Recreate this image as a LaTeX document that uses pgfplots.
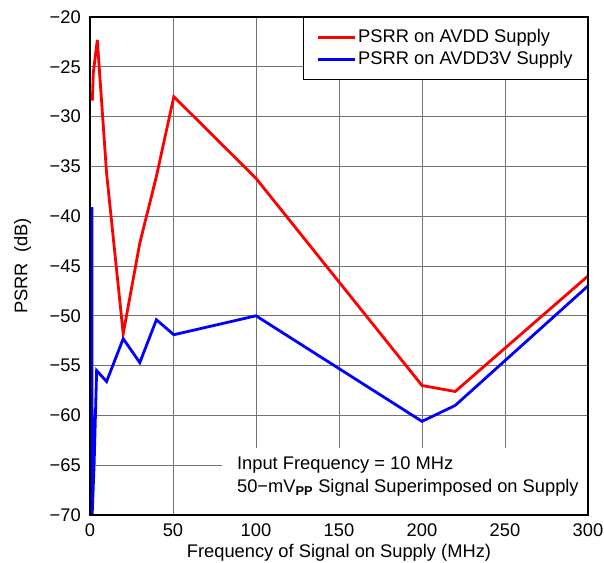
\documentclass[border=0pt]{standalone}
\usepackage{pgfplots}
\pgfplotsset{compat=1.18}
\usepackage{fontspec}
\setmainfont{Liberation Sans}
\begin{document}
\fontsize{18.3}{21}\selectfont
\begin{tikzpicture}
\begin{axis}[
  scale only axis,
  width=498pt, height=498pt,
  xmin=0, xmax=300, ymin=-70, ymax=-20,
  xtick={0,50,100,150,200,250,300},
  ytick={-70,-65,-60,-55,-50,-45,-40,-35,-30,-25,-20},
  yticklabels={−70,−65,−60,−55,−50,−45,−40,−35,−30,−25,−20},
  /pgf/number format/assume math mode=true,
  tick style={draw=none},
  grid=major,
  major grid style={draw=black!55, line width=0.8pt},
  axis line style={line width=1.6pt},
  ticklabel style={font=\fontsize{18.3}{21}\selectfont},
  yticklabel style={xshift=-3pt},
  xticklabel style={yshift=-2pt},
  xlabel={Frequency of Signal on Supply (MHz)},
  ylabel={PSRR\ \ (dB)},
  label style={font=\fontsize{18.3}{21}\selectfont},
  xlabel style={yshift=4pt},
  ylabel style={yshift=6pt},
  legend style={at={(1,1)}, anchor=north east, draw=black, line width=1pt,
    font=\fontsize{18.3}{21}\selectfont, inner xsep=13pt, inner ysep=10pt,
    row sep=2pt, cells={anchor=west}},
  legend cell align=left,
  legend image code/.code={\draw[#1, line width=3pt] (0pt,0pt) -- (37pt,0pt);},
  clip=true,
]
\addplot[red, line width=2.8pt] coordinates {
(1.4,-28.4) (2,-25.6) (4.4,-22.3) (10,-35.7) (20,-51.8) (30,-42.7) (40,-36)
(50.5,-28.0) (100,-36.2) (200,-57.0) (220,-57.6) (300,-46.0)
};
\addlegendentry{PSRR on AVDD Supply}
\addplot[blue, line width=2.8pt] coordinates {
(1.2,-39.1) (1.3,-70) (2.5,-64.8) (4,-55.5) (10,-56.6) (20,-52.3) (30,-54.7)
(40,-50.4) (50.5,-51.9) (100,-50.0) (200,-60.6) (220,-59.0) (300,-47.0)
};
\addlegendentry{PSRR on AVDD3V Supply}
\fill[white] (axis cs:79.5,-70) rectangle (axis cs:300,-63.3);
\node[anchor=west, align=left, font=\fontsize{18.3}{23}\selectfont, inner sep=0pt]
  at (axis cs:88.5,-66.1) {Input Frequency = 10 MHz\\50−mV\textsubscript{\textbf{PP}} Signal Superimposed on Supply};
\draw[line width=1.6pt] (rel axis cs:0,0) rectangle (rel axis cs:1,1);
\end{axis}
\pgfresetboundingbox
\path (current axis.south west) ++(-90pt,-48pt) coordinate (bl);
\path (current axis.north east) ++(16pt,17pt) coordinate (tr);
\path[use as bounding box] (bl) rectangle (tr);
\end{tikzpicture}
\end{document}
